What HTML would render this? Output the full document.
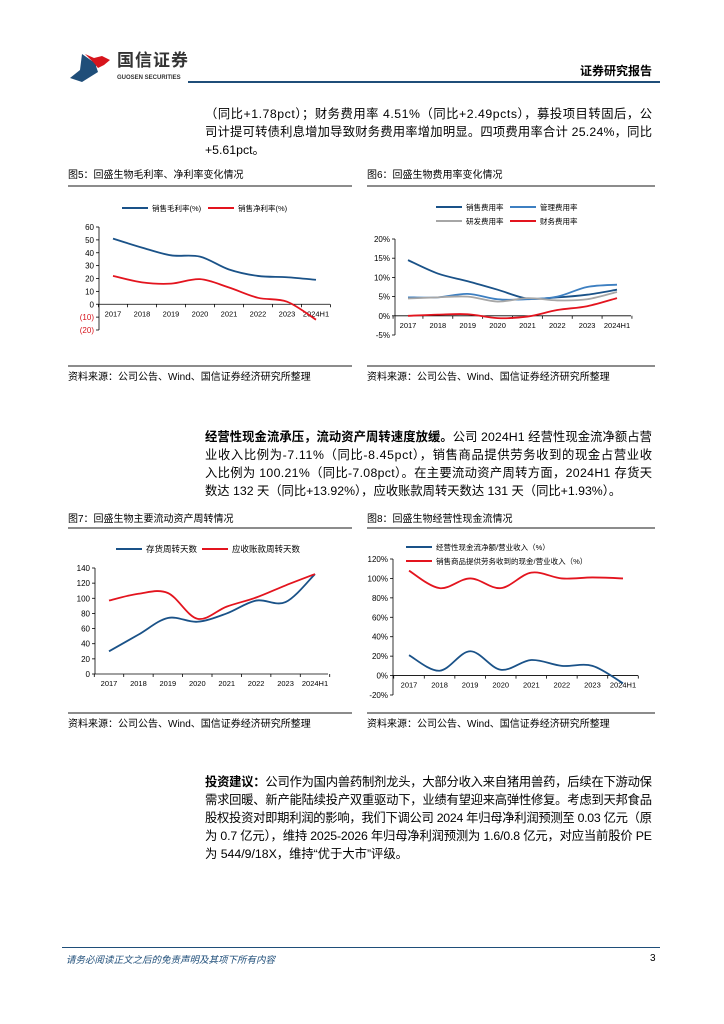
<!DOCTYPE html>
<html><head><meta charset="utf-8">
<style>
body{margin:0;width:724px;height:1024px;background:#fff;position:relative;font-family:"Liberation Sans","Noto Sans CJK SC",sans-serif;color:#000;overflow:hidden}
.abs{position:absolute}
.p{position:absolute;left:205px;width:447px;font-size:12.3px;line-height:18px}
.p .ln{white-space:nowrap;display:block}
.ttl{position:absolute;font-size:10px;line-height:12px}
.src{position:absolute;font-size:10px;line-height:12px}
.hr{position:absolute;height:2px;background:#8c8c8c}
svg text{font-family:"Liberation Sans","Noto Sans CJK SC",sans-serif}
</style></head><body>
<div>
<svg class="abs" style="left:70px;top:52px" width="42" height="32">
<path d="M12 2 L22 9 L26 8 L30 10 L26 14 L28 20 L12 30 L0 26 L10 18 Z" fill="#1f4e79"/>
<path d="M15 2 L24 6 L32 4 L40 8 L34 13 L28 16 L24 11 Z" fill="#d7141c"/>
</svg>
<div class="abs" style="left:117px;top:51px;font-size:17px;line-height:20px;font-weight:bold;color:#333;letter-spacing:1px">国信证券</div>
<div class="abs" style="left:117px;top:75px;font-size:6px;line-height:7px;font-weight:bold;color:#333">GUOSEN SECURITIES</div>
<div class="abs" style="left:580px;top:62px;font-size:12px;font-weight:bold">证券研究报告</div>
<div class="abs" style="left:188px;top:81px;width:472px;height:2px;background:#1f4e79"></div>
</div>

<div class="p" style="top:105px">
<span class="ln j">（同比+1.78pct）；财务费用率 4.51%（同比+2.49pcts），募投项目转固后，公</span>
<span class="ln j">司计提可转债利息增加导致财务费用率增加明显。四项费用率合计 25.24%，同比</span>
<span class="ln">+5.61pct。</span>
</div>

<div class="ttl" style="left:68px;top:170px">图5：回盛生物毛利率、净利率变化情况</div>
<div class="hr" style="left:68px;top:185px;width:284px"></div>
<svg class="abs" id="c5" style="left:60px;top:190px" width="300" height="170"></svg>
<div class="hr" style="left:68px;top:365px;width:284px"></div>
<div class="src" style="left:68px;top:372px">资料来源：公司公告、Wind、国信证券经济研究所整理</div>

<div class="ttl" style="left:367px;top:170px">图6：回盛生物费用率变化情况</div>
<div class="hr" style="left:367px;top:185px;width:288px"></div>
<svg class="abs" id="c6" style="left:360px;top:190px" width="300" height="170"></svg>
<div class="hr" style="left:367px;top:365px;width:288px"></div>
<div class="src" style="left:367px;top:372px">资料来源：公司公告、Wind、国信证券经济研究所整理</div>

<div class="p" style="top:428px">
<span class="ln j"><b>经营性现金流承压，流动资产周转速度放缓。</b>公司 2024H1 经营性现金流净额占营</span>
<span class="ln j">业收入比例为-7.11%（同比-8.45pct），销售商品提供劳务收到的现金占营业收</span>
<span class="ln j">入比例为 100.21%（同比-7.08pct）。在主要流动资产周转方面，2024H1 存货天</span>
<span class="ln">数达 132 天（同比+13.92%），应收账款周转天数达 131 天（同比+1.93%）。</span>
</div>

<div class="ttl" style="left:68px;top:514px">图7：回盛生物主要流动资产周转情况</div>
<div class="hr" style="left:68px;top:527px;width:284px"></div>
<svg class="abs" id="c7" style="left:60px;top:532px" width="300" height="170"></svg>
<div class="hr" style="left:68px;top:712px;width:284px"></div>
<div class="src" style="left:68px;top:719px">资料来源：公司公告、Wind、国信证券经济研究所整理</div>

<div class="ttl" style="left:367px;top:514px">图8：回盛生物经营性现金流情况</div>
<div class="hr" style="left:367px;top:527px;width:288px"></div>
<svg class="abs" id="c8" style="left:360px;top:532px" width="300" height="170"></svg>
<div class="hr" style="left:367px;top:712px;width:288px"></div>
<div class="src" style="left:367px;top:719px">资料来源：公司公告、Wind、国信证券经济研究所整理</div>

<div class="p" style="top:773px">
<span class="ln j"><b>投资建议：</b>公司作为国内兽药制剂龙头，大部分收入来自猪用兽药，后续在下游动保</span>
<span class="ln j">需求回暖、新产能陆续投产双重驱动下，业绩有望迎来高弹性修复。考虑到天邦食品</span>
<span class="ln j">股权投资对即期利润的影响，我们下调公司 2024 年归母净利润预测至 0.03 亿元（原</span>
<span class="ln j">为 0.7 亿元），维持 2025-2026 年归母净利润预测为 1.6/0.8 亿元，对应当前股价 PE</span>
<span class="ln">为 544/9/18X，维持“优于大市”评级。</span>
</div>

<div class="abs" style="left:62px;top:947px;width:598px;height:1px;background:#1f4e79"></div>
<div class="abs" style="left:66px;top:952px;font-size:9.5px;font-style:italic;color:#1f4e79">请务必阅读正文之后的免责声明及其项下所有内容</div>
<div class="abs" style="left:650px;top:953px;font-size:10px">3</div>

<script>
const years = ["2017","2018","2019","2020","2021","2022","2023","2024H1"];
const c5Gross = [51,44,38,37,27,22,21,19];
const c5Net = [22,17,16,19.5,13,5,2,-12];
const c5Ticks = [60,50,40,30,20,10,0,-10,-20];
const c5TickLabels = ["60","50","40","30","20","10","0","(10)","(20)"];
const c6Sales = [14.5,11,9,6.8,4.5,4.8,5.5,6.8];
const c6Mgmt = [4.8,4.8,5.7,4.3,4.3,5,7.5,8.1];
const c6RD = [4.5,4.8,5,3.7,4.6,4,4.3,6.2];
const c6Fin = [0,0.3,0.4,-0.6,-0.2,1.5,2.5,4.6];
const c6Ticks = [20,15,10,5,0,-5];
const c6TickLabels = ["20%","15%","10%","5%","0%","-5%"];
const c7Inv = [30,52,74,69,80,97,95,132];
const c7AR = [97,106,107,73,89,101,117,132];
const c7Ticks = [140,120,100,80,60,40,20,0];
const c7TickLabels = ["140","120","100","80","60","40","20","0"];
const c8Op = [21,5,25,6,16,10,10,-8];
const c8Cash = [108,90,100,90,106,100,101,100];
const c8Ticks = [120,100,80,60,40,20,0,-20];
const c8TickLabels = ["120%","100%","80%","60%","40%","20%","0%","-20%"];

// fit each paragraph line to the column width
document.querySelectorAll('.p .ln').forEach(ln=>{
  ln.style.display='inline-block';
  const w=ln.getBoundingClientRect().width;
  const n=ln.textContent.length;
  if(ln.classList.contains('j')||w>447){ln.style.letterSpacing=((447-w)/Math.max(1,n-1))+'px';}
  ln.style.display='block';
});

const NS="http://www.w3.org/2000/svg";
function mk(svg,tag,attrs){const e=document.createElementNS(NS,tag);for(const k in attrs)e.setAttribute(k,attrs[k]);svg.appendChild(e);return e;}
function smooth(pts){let d="M"+pts[0][0]+","+pts[0][1];for(let i=0;i<pts.length-1;i++){const p0=pts[Math.max(0,i-1)],p1=pts[i],p2=pts[i+1],p3=pts[Math.min(pts.length-1,i+2)];const t=6;d+=" C"+(p1[0]+(p2[0]-p0[0])/t)+","+(p1[1]+(p2[1]-p0[1])/t)+" "+(p2[0]-(p3[0]-p1[0])/t)+","+(p2[1]-(p3[1]-p1[1])/t)+" "+p2[0]+","+p2[1];}return d;}

function chart(id,cfg){
  const svg=document.getElementById(id);
  const y=v=>cfg.yTop+(cfg.yMax-v)/(cfg.yMax-cfg.yMin)*(cfg.yBot-cfg.yTop);
  const x=i=>cfg.x0+i*(cfg.x1-cfg.x0)/(years.length-1);
  const y0=y(cfg.zero);
  const ax=mk(svg,"line",{x1:cfg.ax,y1:cfg.yTop,x2:cfg.ax,y2:cfg.yBot,stroke:"#000","stroke-width":0.8});
  
  
  const xa=mk(svg,"line",{x1:cfg.ax,y1:y0,x2:cfg.axEnd,y2:y0,stroke:"#000","stroke-width":0.8});
  
  
  cfg.ticks.forEach((t,i)=>{
    mk(svg,"line",{x1:cfg.ax-3,y1:y(t),x2:cfg.ax,y2:y(t),stroke:"#000","stroke-width":0.8});
    const tx=mk(svg,"text",{x:cfg.ax-5,y:y(t)+3,"text-anchor":"end","font-size":8,fill:(t<0&&cfg.redNeg)?"#d7141c":"#000"});
    tx.textContent=cfg.labels[i];
    
    
  });
  const step=(cfg.x1-cfg.x0)/(years.length-1);
  for(let i=0;i<=years.length;i++){const xx=cfg.x0-step/2+i*step;mk(svg,"line",{x1:xx,y1:y0,x2:xx,y2:y0+3,stroke:"#000","stroke-width":0.8});}
  years.forEach((yr,i)=>{
    const t=mk(svg,"text",{x:x(i),y:y0+12,"text-anchor":"middle","font-size":7.5});
    t.textContent=yr;
    
    
  });
  cfg.series.forEach(s=>{
    const p=mk(svg,"path",{d:smooth(s.data.map((v,i)=>[x(i),y(v)])),fill:"none",stroke:s.color,"stroke-width":1.8});
    
    
    mk(svg,"line",{x1:s.lx,y1:s.ly,x2:s.lx+s.lw,y2:s.ly,stroke:s.color,"stroke-width":2});
    const lt=mk(svg,"text",{x:s.lx+s.lw+4,y:s.ly+3,"font-size":s.fs||7.5});
    lt.textContent=s.label;
    
    
  });
}
const B="#1a5288",R="#e3141e",L="#3d7fc1",G="#a6a6a6";
chart("c5",{yTop:37,yBot:140,yMax:60,yMin:-20,zero:0,ax:39,axEnd:270,x0:53,x1:256,ticks:c5Ticks,labels:c5TickLabels,redNeg:true,
 series:[{name:"gross-margin",data:c5Gross,color:B,label:"销售毛利率(%)",lx:62,ly:18,lw:26},{name:"net-margin",data:c5Net,color:R,label:"销售净利率(%)",lx:148,ly:18,lw:26}]});
chart("c6",{yTop:49,yBot:145,yMax:20,yMin:-5,zero:0,ax:35,axEnd:271,x0:48,x1:257,ticks:c6Ticks,labels:c6TickLabels,
 series:[{name:"sales-expense",data:c6Sales,color:B,label:"销售费用率",lx:76,ly:17,lw:26},{name:"admin-expense",data:c6Mgmt,color:L,label:"管理费用率",lx:150,ly:17,lw:26},
 {name:"rd-expense",data:c6RD,color:G,label:"研发费用率",lx:76,ly:31,lw:26},{name:"finance-expense",data:c6Fin,color:R,label:"财务费用率",lx:150,ly:31,lw:26}]});
chart("c7",{yTop:36,yBot:142,yMax:140,yMin:0,zero:0,ax:35,axEnd:268,x0:49,x1:255,ticks:c7Ticks,labels:c7TickLabels,
 series:[{name:"inventory-days",data:c7Inv,color:B,label:"存货周转天数",lx:56,ly:17,lw:26,fs:8.5},{name:"receivable-days",data:c7AR,color:R,label:"应收账款周转天数",lx:142,ly:17,lw:26,fs:8.5}]});
chart("c8",{yTop:27,yBot:163,yMax:120,yMin:-20,zero:0,ax:33,axEnd:278,x0:49,x1:263,ticks:c8Ticks,labels:c8TickLabels,
 series:[{name:"operating-cashflow-ratio",data:c8Op,color:B,label:"经营性现金流净额/营业收入（%）",lx:46,ly:15,lw:26},{name:"sales-cash-ratio",data:c8Cash,color:R,label:"销售商品提供劳务收到的现金/营业收入（%）",lx:46,ly:29,lw:26}]});
</script>
</body></html>
